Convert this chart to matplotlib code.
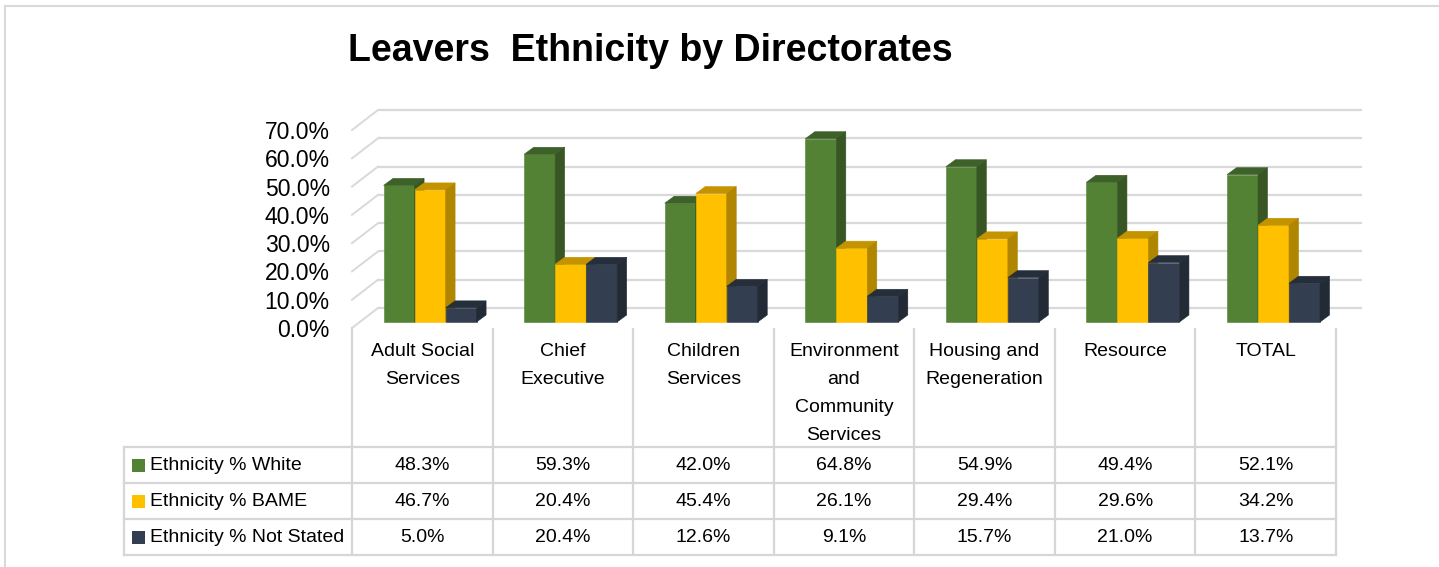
import matplotlib
matplotlib.use("Agg")
import matplotlib.pyplot as plt
from matplotlib.patches import Polygon, Rectangle

plt.rcParams['font.family'] = ['Liberation Sans', 'DejaVu Sans']

directorates = ["Adult Social\nServices", "Chief\nExecutive", "Children\nServices",
                "Environment\nand\nCommunity\nServices", "Housing and\nRegeneration",
                "Resource", "TOTAL"]
series_names = ["Ethnicity % White", "Ethnicity % BAME", "Ethnicity % Not Stated"]
white = [48.3, 59.3, 42.0, 64.8, 54.9, 49.4, 52.1]
bame = [46.7, 20.4, 45.4, 26.1, 29.4, 29.6, 34.2]
not_stated = [5.0, 20.4, 12.6, 9.1, 15.7, 21.0, 13.7]
yticks = [0, 10, 20, 30, 40, 50, 60, 70]

series = [white, bame, not_stated]
# front / top / side shades for each series
shades = [("#548235", "#3e6129", "#375623"),
          ("#FFC000", "#c39300", "#B08500"),
          ("#333F50", "#252e3b", "#222A35")]

W, H = 1439, 567
fig = plt.figure(figsize=(W / 100, H / 100), dpi=100)

# pixel layout of the plot box
x0, x1 = 352, 1362          # front-left edge, back-right edge
ytop, ybot = 110, 328       # back 70% line, front 0% line
ncat = len(directorates)
cw = (1336 - x0) / ncat     # column width in px
ddx = (x1 - x0) / cw - ncat  # depth shift of back wall, category units
ymax = 70
ddy = 7.07                   # depth shift of back wall, percent units

ax = fig.add_axes([x0 / W, 1 - ybot / H, (x1 - x0) / W, (ybot - ytop) / H])
ax.set_xlim(-0.5, ncat - 0.5 + ddx)
ax.set_ylim(0, ymax + ddy)
ax.patch.set_alpha(0)
for s in ax.spines.values():
    s.set_visible(False)
ax.set_xticks([])
ax.set_yticks(yticks)
ax.set_yticklabels([f"{v:.1f}%" for v in yticks], fontsize=16.5)
ax.tick_params(axis='y', length=0, pad=16)

# back wall and side wall gridlines
grid_c = "#d9d9d9"
for v in yticks:
    ax.plot([-0.5 + ddx, ncat - 0.5 + ddx], [v + ddy] * 2, color=grid_c, lw=1.6,
            zorder=1, clip_on=False, solid_capstyle='butt')
    ax.plot([-0.5, -0.5 + ddx], [v, v + ddy], color=grid_c, lw=1.4, zorder=1,
            clip_on=False)

# 3D looking bars: front face via bar(), then top and side faces
f = 0.3                 # bars sit at 30% of the floor depth
bw = 31 / cw
bdx = 9.5 / cw
bdy = 7 / ((ybot - ytop) / (ymax + ddy))
base = f * ddy
for j, vals in enumerate(series):
    xs = [i + f * ddx + (j - 1) * bw for i in range(ncat)]
    bars = ax.bar(xs, vals, width=bw, bottom=base, color=shades[j][0],
                  edgecolor=shades[j][0], linewidth=0.4)
    for i, (rect, v) in enumerate(zip(bars.patches, vals)):
        z = 3 + (3 * i + j) * 0.01
        rect.set_zorder(z)
        xl = xs[i] - bw / 2
        xr = xs[i] + bw / 2
        yt = base + v
        top = Polygon([(xl, yt), (xr, yt), (xr + bdx, yt + bdy), (xl + bdx, yt + bdy)],
                      closed=True, fc=shades[j][1], ec=shades[j][1], lw=0.4, zorder=z + 0.001)
        side = Polygon([(xr, base), (xr, yt), (xr + bdx, yt + bdy), (xr + bdx, base + bdy)],
                       closed=True, fc=shades[j][2], ec=shades[j][2], lw=0.4, zorder=z + 0.002)
        ax.add_patch(top)
        ax.add_patch(side)

# overlay in pixel coordinates for the title, frame and data table
ov = fig.add_axes([0, 0, 1, 1], zorder=-1)
ov.set_xlim(0, W)
ov.set_ylim(H, 0)
ov.axis('off')

ov.plot([5, W], [6, 6], color=grid_c, lw=1.5)
ov.plot([5, 5], [6, H], color=grid_c, lw=1.5)

ov.text(650, 51, "Leavers  Ethnicity by Directorates", fontsize=27, fontweight='bold',
        ha='center', va='center', color='black')

tbl_c = "#d6d6d6"
row_y = [447, 483, 519, 555]
tbl_left = 124
col_x = [x0 + k * cw for k in range(ncat + 1)]
for y in row_y:
    ov.plot([tbl_left, col_x[-1]], [y, y], color=tbl_c, lw=1.6, solid_capstyle='projecting')
ov.plot([tbl_left, tbl_left], [row_y[0], row_y[-1]], color=tbl_c, lw=1.6)
for k, x in enumerate(col_x):
    ov.plot([x, x], [329 if k else 328, row_y[-1]], color=tbl_c, lw=1.6)

# category labels
for i, lab in enumerate(directorates):
    cx = (col_x[i] + col_x[i + 1]) / 2
    for k, line in enumerate(lab.split("\n")):
        ov.text(cx, 352 + 27.8 * k, line, fontsize=14, ha='center', va='center')

# legend keys, series names and values
for j, (name, vals) in enumerate(zip(series_names, series)):
    cy = (row_y[j] + row_y[j + 1]) / 2
    ov.add_patch(Rectangle((132, cy - 6.5), 13, 13, fc=shades[j][0], ec='none'))
    ov.text(150, cy, name, fontsize=14, ha='left', va='center')
    for i, v in enumerate(vals):
        cx = (col_x[i] + col_x[i + 1]) / 2
        ov.text(cx, cy, f"{v:.1f}%", fontsize=14, ha='center', va='center')

fig.savefig("out.png", dpi=100)
